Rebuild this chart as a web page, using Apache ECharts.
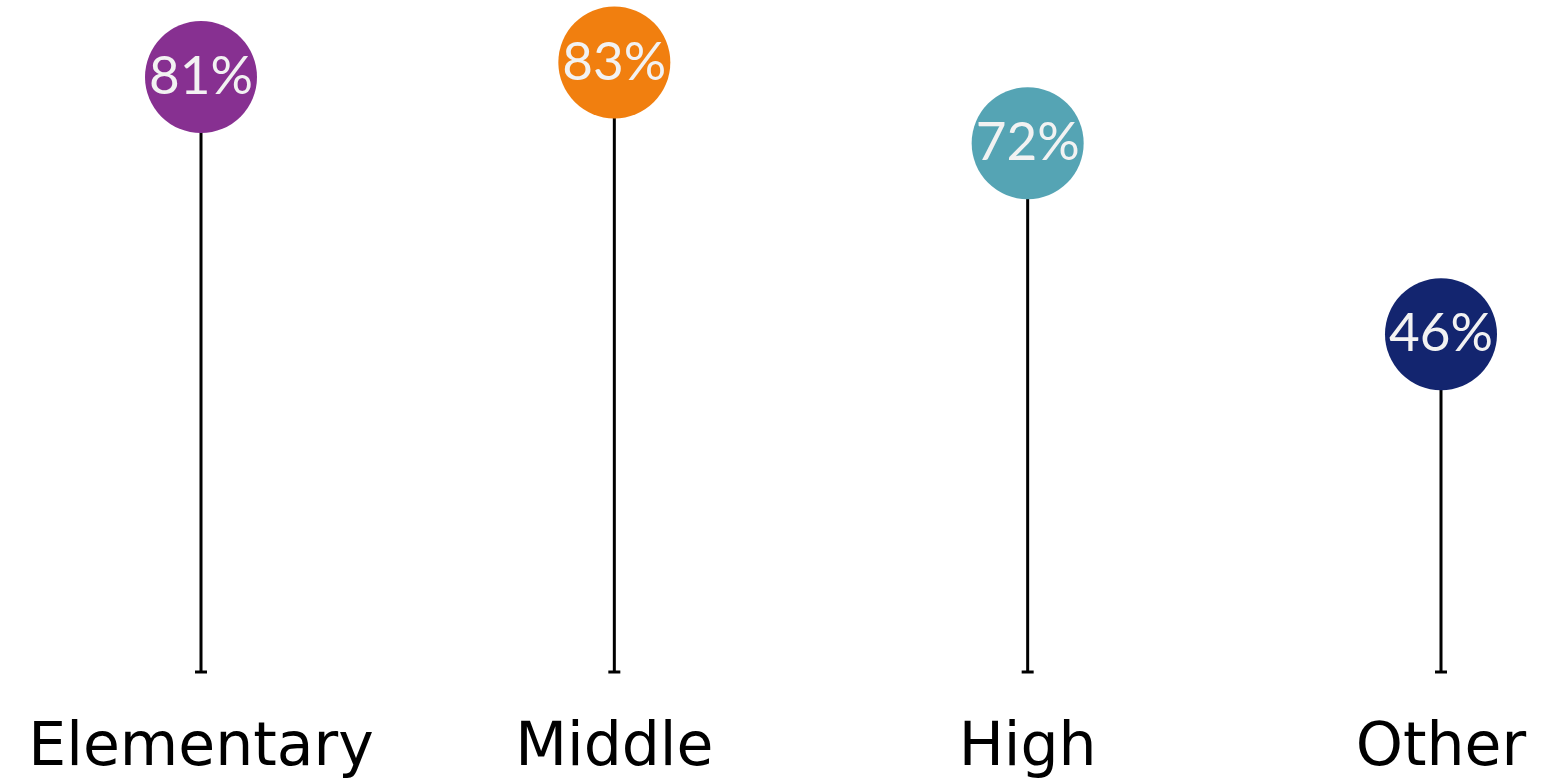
<!DOCTYPE html>
<html>
<head>
<meta charset="utf-8">
<script src="https://cdn.jsdelivr.net/npm/echarts@6/dist/echarts.min.js"></script>
<style>
  html, body { margin: 0; padding: 0; background: #ffffff; }
  #chart { width: 1546px; height: 780px; }
</style>
</head>
<body>
<div id="chart"></div>
<script>
// School levels and the share for each
const categories = ['Elementary', 'Middle', 'High', 'Other'];
const values = [81, 83, 72, 46];
const dotColors = ['#873091', '#F17F0F', '#55A4B4', '#13256F'];

const chart = echarts.init(document.getElementById('chart'));

chart.setOption({
  backgroundColor: '#ffffff',
  animation: false,
  grid: { left: 201, right: 105, top: 11, bottom: 108 },
  xAxis: {
    type: 'category',
    data: categories,
    boundaryGap: false,
    axisLine: { show: false },
    axisTick: { show: false },
    splitLine: { show: false },
    axisLabel: {
      color: '#000000',
      fontFamily: 'DejaVu Sans',
      fontSize: 60,
      margin: 47,
      interval: 0
    }
  },
  yAxis: {
    type: 'value',
    min: 0,
    max: 90,
    show: false,
    splitLine: { show: false }
  },
  series: [
    {
      // stems
      type: 'bar',
      data: values,
      barWidth: 3,
      itemStyle: { color: '#000000' },
      silent: true,
      z: 1
    },
    {
      // small caps at the foot of each stem
      type: 'scatter',
      data: values.map(() => 0),
      symbol: 'rect',
      symbolSize: [12, 3],
      itemStyle: { color: '#000000', opacity: 1 },
      clip: false,
      silent: true,
      z: 2
    },
    {
      // value dots
      type: 'scatter',
      data: values.map((v, i) => ({ value: v, itemStyle: { color: dotColors[i], opacity: 1 } })),
      symbol: 'circle',
      symbolSize: 112,
      clip: false,
      z: 3,
      label: {
        show: true,
        position: 'inside',
        formatter: p => p.value + '%',
        color: '#f2f2f2',
        fontFamily: 'Lato',
        fontSize: 53
      }
    }
  ]
});
</script>
</body>
</html>
